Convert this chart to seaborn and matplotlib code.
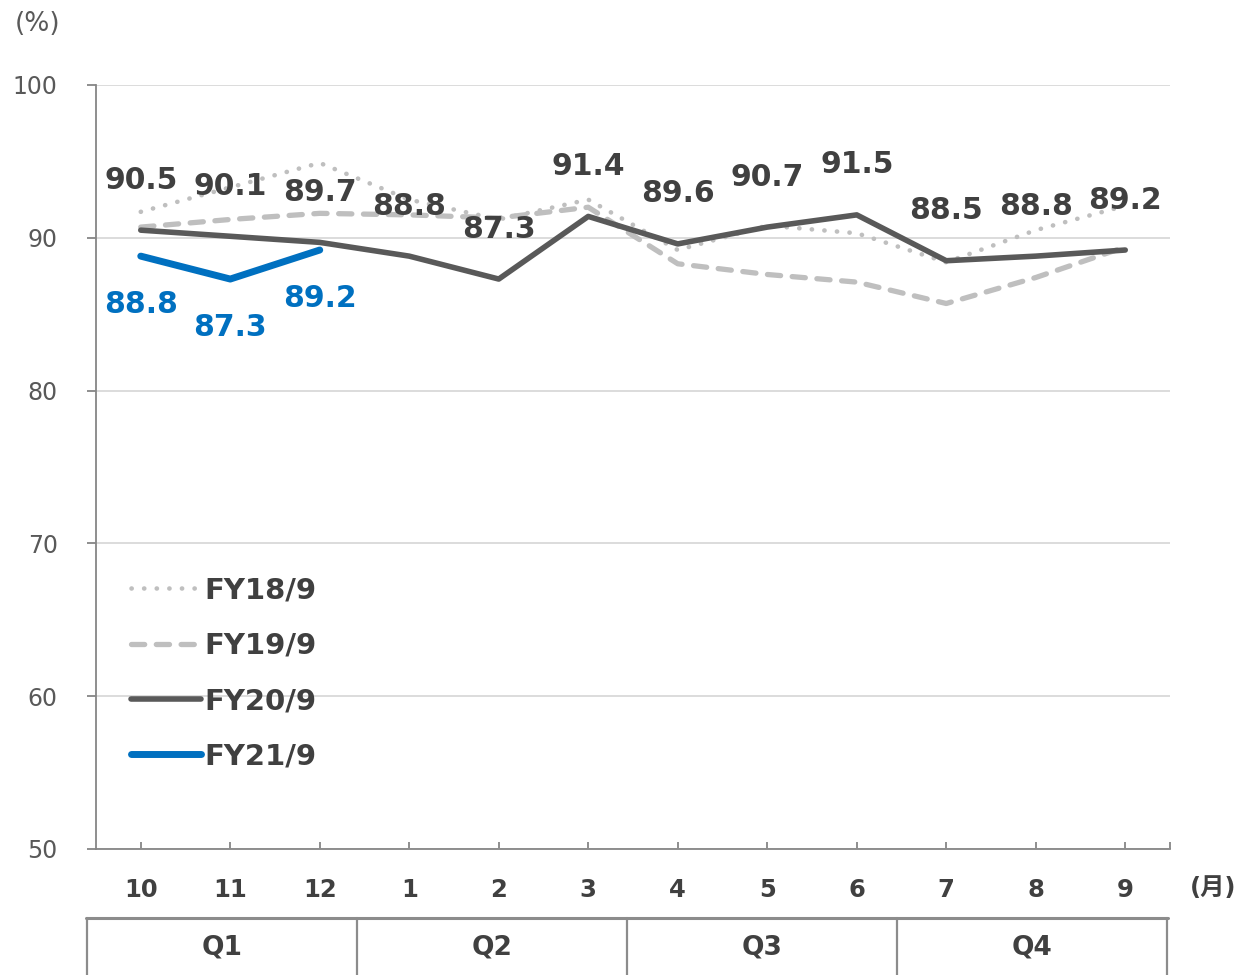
import pandas as pd
import numpy as np
import matplotlib
matplotlib.use("Agg")
import matplotlib.pyplot as plt
from matplotlib.lines import Line2D
import seaborn as sns

# --------- chart data ----------
MONTHS = ["10", "11", "12", "1", "2", "3", "4", "5", "6", "7", "8", "9"]
QUARTERS = ["Q1", "Q2", "Q3", "Q4"]
FY18 = [91.7, 93.3, 94.9, 92.5, 91.2, 92.5, 89.2, 90.8, 90.3, 88.4, 90.5, 92.1]
FY19 = [90.7, 91.2, 91.6, 91.5, 91.3, 92.0, 88.3, 87.6, 87.1, 85.7, 87.4, 89.4]
FY20 = [90.5, 90.1, 89.7, 88.8, 87.3, 91.4, 89.6, 90.7, 91.5, 88.5, 88.8, 89.2]
FY21 = [88.8, 87.3, 89.2]
Y_TICKS = [50, 60, 70, 80, 90, 100]
# -------------------------------

W, H = 1241, 975
DARK = "#404040"
AXIS_GRAY = "#868686"
BLUE = "#0070C0"
LIGHT = "#BFBFBF"


def fx(px):
    return px / W


def fy(py):
    return 1 - py / H


sns.set_style("white")
plt.rcParams["font.family"] = ["DejaVu Sans", "Noto Sans CJK JP"]

fig = plt.figure(figsize=(W / 100, H / 100), dpi=100)
ax = fig.add_axes([fx(96), fy(849), fx(1170) - fx(96), fy(85) - fy(849)])

rows = []
for name, vals in [("FY18/9", FY18), ("FY19/9", FY19), ("FY20/9", FY20), ("FY21/9", FY21)]:
    for i, v in enumerate(vals):
        rows.append({"series": name, "pos": i, "value": v})
df = pd.DataFrame(rows)

styles = {
    "FY18/9": dict(color=LIGHT, lw=3.3, ls=(0, (0.05, 2.7))),
    "FY19/9": dict(color=LIGHT, lw=3.8, ls=(0, (2.5, 2.2))),
    "FY20/9": dict(color="#595959", lw=4.0, ls="-"),
    "FY21/9": dict(color=BLUE, lw=5.0, ls="-"),
}

handles = []
for name, st in styles.items():
    sub = df[df["series"] == name]
    sns.lineplot(data=sub, x="pos", y="value", ax=ax, color=st["color"],
                 linewidth=st["lw"], linestyle=st["ls"], zorder=3,
                 dash_capstyle="round", solid_capstyle="round")
    handles.append(Line2D([0], [0], color=st["color"], lw=st["lw"], ls=st["ls"],
                          dash_capstyle="round", solid_capstyle="round"))

# data labels
for i, v in enumerate(FY20):
    ax.annotate(f"{v:.1f}", (i, v), xytext=(0, 36), textcoords="offset points",
                ha="center", va="center", fontsize=21.5, fontweight="bold",
                color=DARK, zorder=5)
for i, v in enumerate(FY21):
    ax.annotate(f"{v:.1f}", (i, v), xytext=(0, -35), textcoords="offset points",
                ha="center", va="center", fontsize=21.5, fontweight="bold",
                color=BLUE, zorder=5)

ax.set_xlim(-0.5, len(MONTHS) - 0.5)
ax.set_ylim(50, 100)
ax.set_xticks(range(len(MONTHS)))
ax.set_xticklabels(MONTHS, fontsize=17.5, fontweight="bold", color=DARK)
ax.set_xticks([len(MONTHS) - 0.5], minor=True)
ax.set_yticks(Y_TICKS)
ax.set_yticklabels([str(t) for t in Y_TICKS], fontsize=17, color="#595959")
ax.set_xlabel("")
ax.set_ylabel("")

ax.grid(axis="y", color="#D9D9D9", linewidth=1.3, zorder=0)
ax.grid(axis="x", visible=False)
for side in ["top", "right"]:
    ax.spines[side].set_visible(False)
for side in ["left", "bottom"]:
    ax.spines[side].set_color(AXIS_GRAY)
    ax.spines[side].set_linewidth(1.3)
ax.tick_params(axis="y", direction="out", length=6.5, width=1.3, color=AXIS_GRAY, pad=21, left=True)
ax.tick_params(axis="x", which="both", direction="in", length=5, width=1.3, color=AXIS_GRAY, pad=21, bottom=True)

leg = ax.legend(handles, list(styles.keys()), loc="upper left",
                bbox_to_anchor=(0.019, 0.376), frameon=False, borderpad=0,
                handlelength=2.4, handletextpad=0.12, labelspacing=0.94,
                prop={"size": 21, "weight": "bold"})
for t in leg.get_texts():
    t.set_color(DARK)

# unit labels
fig.text(fx(38), fy(24), "(%)", ha="center", va="center", fontsize=19, color="#595959")
fig.text(fx(1213), fy(888), "(月)", ha="center", va="center", fontsize=17.5,
         fontweight="bold", color=DARK)

# quarter table under the axis
TBL = "#8C8C8C"
fig.add_artist(Line2D([fx(86), fx(1168)], [fy(918), fy(918)], color=TBL, lw=2.2))
for px in [87, 357, 627, 897, 1167]:
    fig.add_artist(Line2D([fx(px), fx(px)], [fy(918), fy(975)], color=TBL, lw=1.6))
for k, q in enumerate(QUARTERS):
    cx = (87 + 270 * k + 87 + 270 * (k + 1)) / 2
    fig.text(fx(cx), fy(947), q, ha="center", va="center", fontsize=19,
             fontweight="bold", color=DARK)

fig.savefig("out.png", dpi=100)
